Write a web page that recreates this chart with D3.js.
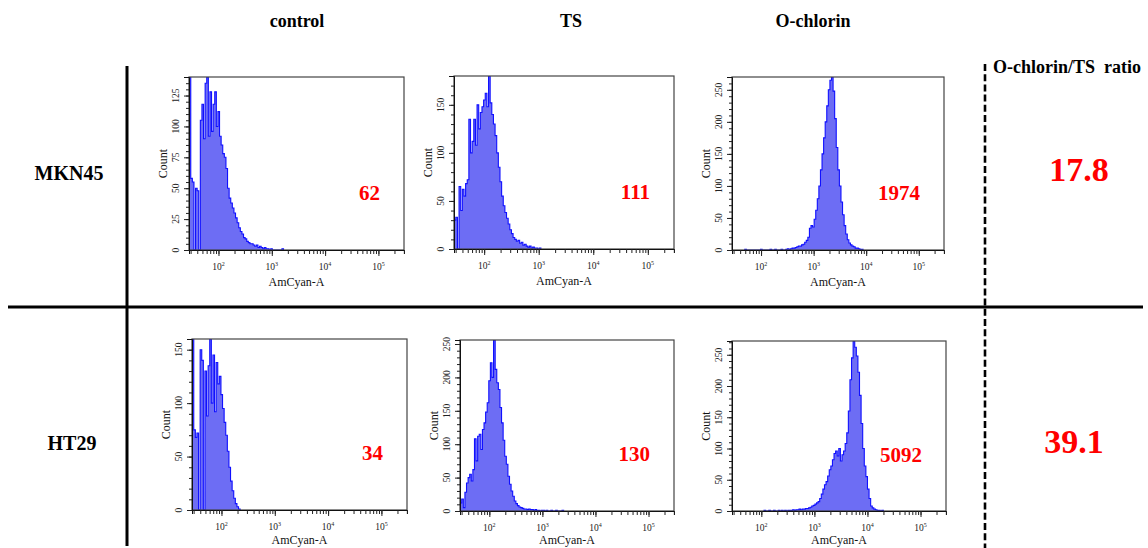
<!DOCTYPE html>
<html>
<head>
<meta charset="utf-8">
<script src="https://cdn.jsdelivr.net/npm/d3@7"></script>
<style>
  body { margin: 0; background: #fff; }
  svg { display: block; }
  text { font-family: "Liberation Serif", "Times New Roman", serif; }
</style>
</head>
<body>
<svg id="chart" width="1148" height="548"></svg>
<script>
// ---------------- DATA ----------------
const conditions = ["control", "TS", "O-chlorin"];
const cellLines = ["MKN45", "HT29"];
const meanFluorescence = [62, 111, 1974, 34, 130, 5092];
const ratioTitle = "O-chlorin/TS  ratio";
const ratios = ["17.8", "39.1"];
const xAxisTitle = "AmCyan-A";
const yAxisTitle = "Count";
const xTickValues = [100, 1000, 10000, 100000];
const xTickExponents = ["2", "3", "4", "5"];
const xDomain = [28, 302000];

// histogram bins: log10 width of one bin and log10 start of each series
const binWidthLog = 0.03;
const mkn45ControlStart = 1.45;
const mkn45Control = [140,58,55,0,50,48,0,105,118,90,135,140,92,128,96,118,128,100,112,92,85,78,75,66,50,42,38,34,30,26,22,18,15,13,10,9,7,6,5,5,4,3,4,2,3,2,1,2,1,1,0,1,0,0,0,0,0,0,1];
const mkn45TSStart = 1.45;
const mkn45TS = [30,33,0,65,40,62,55,68,72,135,100,112,135,108,150,125,142,148,155,162,148,180,152,140,130,118,100,85,70,55,45,38,32,26,20,16,12,10,8,9,6,7,4,5,3,2,3,1,2,1,1,0,1];
const mkn45OchlorinStart = 1.69;
const mkn45Ochlorin = [1,0,0,0,0,0,0,0,0,0,1,0,0,0,0,0,1,0,0,1,0,0,0,1,0,0,1,2,1,2,3,3,4,5,6,6,8,9,12,15,20,34,38,36,48,62,80,100,125,150,175,200,225,250,265,270,248,205,160,125,100,75,55,38,25,16,11,8,6,5,3,3,2,1,1];
const ht29ControlStart = 1.45;
const ht29Control = [160,75,68,72,0,150,140,0,130,88,135,160,100,145,92,138,118,125,108,95,82,70,55,40,27,18,11,6,3,1];
const ht29TSStart = 1.45;
const ht29TS = [12,18,5,28,42,50,55,45,62,108,75,112,115,92,122,132,148,162,195,222,200,256,212,192,182,155,132,106,82,70,52,40,30,22,15,11,8,6,5,4,3,3,2,3,2,2,1,2,1,1,0,1,1,0,1,0,0,1,0,0,1,0,0,0,1];
const ht29OchlorinStart = 2.05;
const ht29Ochlorin = [1,0,0,1,0,0,1,0,0,1,0,1,0,1,0,1,1,1,2,1,2,2,3,2,3,3,4,4,5,6,8,9,11,13,15,20,27,35,42,47,56,66,72,82,92,96,88,100,80,90,96,108,125,160,210,245,272,262,248,222,185,140,100,72,55,35,20,8,5,3,2,1,1,0,1];

const countMax = [140, 180, 270, 160, 256, 272];
const countMajorTicks = [
  [0, 25, 50, 75, 100, 125],
  [0, 50, 100, 150],
  [0, 50, 100, 150, 200, 250],
  [0, 50, 100, 150],
  [0, 50, 100, 150, 200, 250],
  [0, 50, 100, 150, 200, 250]
];
const countMinorStep = [5, 10, 10, 10, 10, 10];

// ---------------- LAYOUT ----------------
const W = 1148, H = 548;
const frames = [
  { x: 189, y: 77, w: 215, h: 173 },
  { x: 454, y: 76, w: 220, h: 173 },
  { x: 732, y: 77, w: 212, h: 173 },
  { x: 192, y: 339, w: 215, h: 171 },
  { x: 460, y: 340, w: 214, h: 171 },
  { x: 732, y: 341, w: 214, h: 170 }
];
const headerX = [297, 571, 813];
const rowLabelPos = [{ x: 69, y: 180 }, { x: 72, y: 450 }];
const ratioPos = [{ x: 1079, y: 181 }, { x: 1074, y: 453 }];

const series = [
  { start: mkn45ControlStart, counts: mkn45Control },
  { start: mkn45TSStart, counts: mkn45TS },
  { start: mkn45OchlorinStart, counts: mkn45Ochlorin },
  { start: ht29ControlStart, counts: ht29Control },
  { start: ht29TSStart, counts: ht29TS },
  { start: ht29OchlorinStart, counts: ht29Ochlorin }
];

const svg = d3.select("#chart");

// ---------------- GRID LINES ----------------
svg.append("line").attr("x1", 127).attr("x2", 127).attr("y1", 66).attr("y2", 546)
  .attr("stroke", "#000").attr("stroke-width", 3);
svg.append("line").attr("x1", 8).attr("x2", 1143).attr("y1", 307).attr("y2", 307)
  .attr("stroke", "#000").attr("stroke-width", 3);
svg.append("line").attr("x1", 985).attr("x2", 985).attr("y1", 64).attr("y2", 548)
  .attr("stroke", "#000").attr("stroke-width", 2.6).attr("stroke-dasharray", "7,3.2");

// ---------------- HEADERS ----------------
conditions.forEach((c, i) => {
  svg.append("text").attr("x", headerX[i]).attr("y", 27).attr("text-anchor", "middle")
    .attr("font-size", 18).attr("font-weight", "bold").text(c);
});
svg.append("text").attr("x", 993).attr("y", 73).attr("font-size", 18).attr("font-weight", "bold")
  .attr("xml:space", "preserve").style("white-space", "pre").text(ratioTitle);

cellLines.forEach((c, i) => {
  svg.append("text").attr("x", rowLabelPos[i].x).attr("y", rowLabelPos[i].y).attr("text-anchor", "middle")
    .attr("font-size", 20).attr("font-weight", "bold").text(c);
  svg.append("text").attr("x", ratioPos[i].x).attr("y", ratioPos[i].y).attr("text-anchor", "middle")
    .attr("font-size", 34).attr("font-weight", "bold").attr("fill", "#ff0000").text(ratios[i]);
});

// ---------------- PANELS ----------------
frames.forEach((f, p) => {
  const g = svg.append("g").attr("transform", `translate(${f.x},${f.y})`);
  const x = d3.scaleLog().domain(xDomain).range([0, f.w]);
  const y = d3.scaleLinear().domain([0, countMax[p]]).range([f.h, 0]);

  const clipId = "clip" + p;
  g.append("clipPath").attr("id", clipId).append("rect").attr("width", f.w).attr("height", f.h);

  const s = series[p];
  const n = s.counts.length;
  const pts = [{ v: Math.pow(10, s.start), c: 0 }]
    .concat(s.counts.map((c, i) => ({ v: Math.pow(10, s.start + i * binWidthLog), c })))
    .concat([{ v: Math.pow(10, s.start + n * binWidthLog), c: s.counts[n - 1] },
             { v: Math.pow(10, s.start + n * binWidthLog), c: 0 }]);

  const area = d3.area().curve(d3.curveStepAfter).x(d => x(d.v)).y0(y(0)).y1(d => y(d.c));
  const line = d3.line().curve(d3.curveStepAfter).x(d => x(d.v)).y(d => y(d.c));
  const hg = g.append("g").attr("clip-path", `url(#${clipId})`);
  hg.append("path").datum(pts).attr("d", area).attr("fill", "#6d6df4");
  hg.append("path").datum(pts).attr("d", line).attr("fill", "none")
    .attr("stroke", "#1010ff").attr("stroke-width", 1.1);

  // frame
  g.append("rect").attr("width", f.w).attr("height", f.h).attr("fill", "none")
    .attr("stroke", "#444").attr("stroke-width", 1.2);

  // y axis
  const minor = d3.range(0, countMax[p] + 0.001, countMinorStep[p]);
  const yMinor = g.append("g").call(d3.axisLeft(y).tickValues(minor).tickSize(3).tickFormat(""));
  yMinor.select(".domain").remove();
  const yMajor = g.append("g").call(d3.axisLeft(y).tickValues(countMajorTicks[p]).tickSize(5).tickFormat(""));
  yMajor.select(".domain").attr("stroke", "#111");
  g.selectAll(".tick line").attr("stroke", "#222");
  countMajorTicks[p].forEach(t => {
    g.append("text").attr("transform", `translate(-10,${y(t)}) rotate(-90)`)
      .attr("text-anchor", "middle").attr("font-size", 9.5).attr("fill", "#222").text(t);
  });
  g.append("text").attr("transform", `translate(-22,${f.h / 2}) rotate(-90)`)
    .attr("text-anchor", "middle").attr("font-size", 12).attr("fill", "#111").text(yAxisTitle);

  // x axis
  const xAxisG = g.append("g").attr("transform", `translate(0,${f.h})`);
  const allTicks = x.ticks().filter(v => v >= xDomain[0] && v <= xDomain[1]);
  xAxisG.call(d3.axisBottom(x).tickValues(allTicks).tickSize(4).tickFormat(""));
  xAxisG.select(".domain").attr("stroke", "#111");
  xAxisG.append("g").call(d3.axisBottom(x).tickValues(xTickValues).tickSize(6).tickFormat(""))
    .select(".domain").remove();
  xAxisG.selectAll(".tick line").attr("stroke", "#222");
  xTickValues.forEach((v, i) => {
    const t = xAxisG.append("text").attr("x", x(v)).attr("y", 20).attr("text-anchor", "middle")
      .attr("font-size", 9.5).attr("fill", "#222");
    t.append("tspan").text("10");
    t.append("tspan").attr("font-size", 6).attr("dy", -4).text(xTickExponents[i]);
  });
  const titleY = Math.min(36, H - (f.y + f.h) - 4);
  xAxisG.append("text").attr("x", f.w / 2).attr("y", titleY).attr("text-anchor", "middle")
    .attr("font-size", 12).attr("fill", "#111").text(xAxisTitle);

  // mean fluorescence label
  g.append("text").attr("x", f.w - 24).attr("y", f.h * 0.71).attr("text-anchor", "end")
    .attr("font-size", 21).attr("font-weight", "bold").attr("fill", "#ff0000")
    .text(meanFluorescence[p]);
});
</script>
</body>
</html>
